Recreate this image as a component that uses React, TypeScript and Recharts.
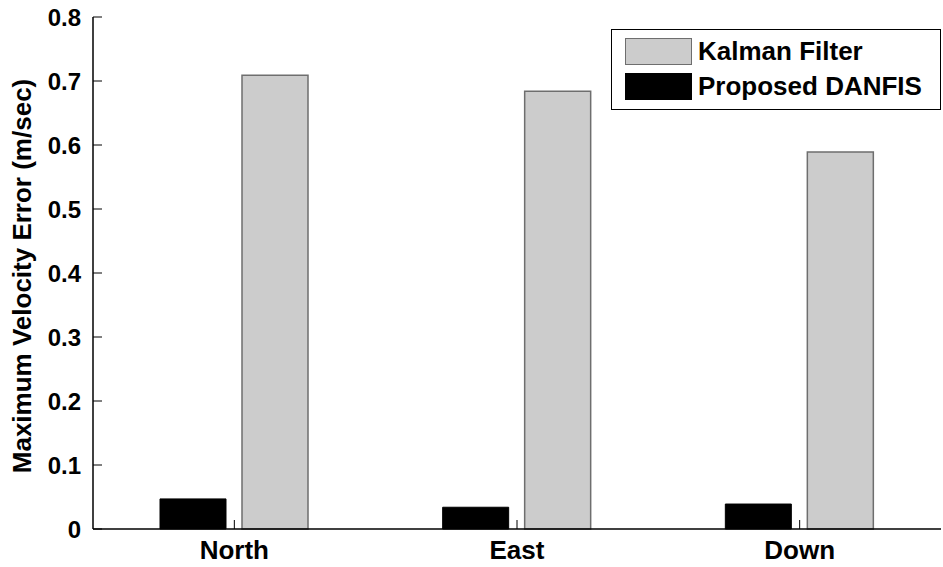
import React from "react";
import { Bar, BarChart, Legend, XAxis, YAxis } from "recharts";

const categories = ["North", "East", "Down"];
const danfis = [0.047, 0.034, 0.039];
const kalman = [0.709, 0.684, 0.589];
const yTicks = [0, 0.1, 0.2, 0.3, 0.4, 0.5, 0.6, 0.7, 0.8];

const seriesNames = { kalman: "Kalman Filter", danfis: "Proposed DANFIS" };
const legendOrder = [seriesNames.kalman, seriesNames.danfis];
const yTitle = "Maximum Velocity Error (m/sec)";

const data = categories.map((name, i) => ({
  name,
  danfis: danfis[i],
  kalman: kalman[i],
}));

const FONT = "'Liberation Sans', Arial, sans-serif";
const boldText = { fontFamily: FONT, fontWeight: "bold" as const };

const YTitle = (props: any) => {
  const { viewBox } = props;
  const cx = viewBox.x + 22;
  const cy = viewBox.y + viewBox.height / 2 + 3;
  return (
    <text
      x={cx}
      y={cy}
      transform={`rotate(-90, ${cx}, ${cy})`}
      textAnchor="middle"
      dominantBaseline="central"
      fill="#000"
      fontFamily={FONT}
      fontWeight="bold"
      fontSize={26}
      style={{ ...boldText, fontSize: 26 }}
    >
      {yTitle}
    </text>
  );
};

const YTick = (props: any) => {
  const { x, y, payload } = props;
  const v = payload.value;
  return (
    <text
      x={x}
      y={y}
      textAnchor="end"
      dominantBaseline="central"
      fill="#000"
      fontWeight="bold"
      style={{ ...boldText, fontSize: 24 }}
    >
      {v === 0 ? "0" : v.toFixed(1)}
    </text>
  );
};

const XTick = (props: any) => {
  const { x, y, payload } = props;
  return (
    <text
      x={x}
      y={y}
      dy={36}
      textAnchor="middle"
      fill="#000"
      fontWeight="bold"
      style={{ ...boldText, fontSize: 26 }}
    >
      {payload.value}
    </text>
  );
};

const LegendBox = (props: any) => {
  const items = [...(props.payload || [])].sort(
    (a: any, b: any) => legendOrder.indexOf(a.value) - legendOrder.indexOf(b.value)
  );
  return (
    <div
      style={{
        border: "1px solid #000",
        background: "#fff",
        boxSizing: "border-box",
        width: 330,
        height: 81,
        padding: "8px 0 0 13px",
        ...boldText,
        fontSize: 26,
      }}
    >
      {items.map((it: any) => (
        <div
          key={it.value}
          style={{ display: "flex", alignItems: "center", height: 27, marginBottom: 8 }}
        >
          <span
            style={{
              display: "inline-block",
              width: 67,
              height: 27,
              boxSizing: "border-box",
              background: it.payload.fill,
              border: `1.5px solid ${it.payload.stroke}`,
              marginRight: 6,
            }}
          />
          <span style={{ lineHeight: "27px" }}>{it.value}</span>
        </div>
      ))}
    </div>
  );
};

export default function App() {
  return (
    <div>
      <style>{`body{margin:0}`}</style>
      <BarChart
        width={943}
        height={567}
        data={data}
        margin={{ top: 17, right: 2, bottom: 0, left: 0 }}
        barSize={66}
        barGap={16}
      >
        <XAxis
          dataKey="name"
          height={38}
          tickSize={-9}
          tickMargin={3}
          tickLine={{ stroke: "#000" }}
          axisLine={{ stroke: "#000", strokeWidth: 1.5 }}
          tick={<XTick />}
        />
        <XAxis
          xAxisId="top"
          dataKey="name"
          orientation="top"
          height={0}
          tick={false}
          tickSize={-10}
          tickLine={{ stroke: "#000" }}
          axisLine={{ stroke: "#000", strokeWidth: 1.5 }}
        />
        <YAxis
          width={93}
          domain={[0, 0.8]}
          ticks={yTicks}
          tickSize={-9}
          tickMargin={21}
          tickLine={{ stroke: "#000" }}
          axisLine={{ stroke: "#000", strokeWidth: 1.5 }}
          tick={<YTick />}
          label={<YTitle />}
        />
        <YAxis
          yAxisId="right"
          orientation="right"
          width={0}
          domain={[0, 0.8]}
          ticks={yTicks}
          tick={false}
          tickSize={-3}
          tickLine={{ stroke: "#000", strokeWidth: 2 }}
          axisLine={false}
        />
        <Legend
          layout="horizontal"
          verticalAlign="middle"
          align="center"
          content={<LegendBox />}
          wrapperStyle={{ top: 29, left: 611, width: 330, height: 81 }}
        />
        <Bar
          dataKey="danfis"
          name={seriesNames.danfis}
          fill="#000000"
          stroke="#000000"
          isAnimationActive={false}
        />
        <Bar
          dataKey="kalman"
          name={seriesNames.kalman}
          fill="#cccccc"
          stroke="#6e6e6e"
          strokeWidth={1.5}
          isAnimationActive={false}
        />
      </BarChart>
    </div>
  );
}
